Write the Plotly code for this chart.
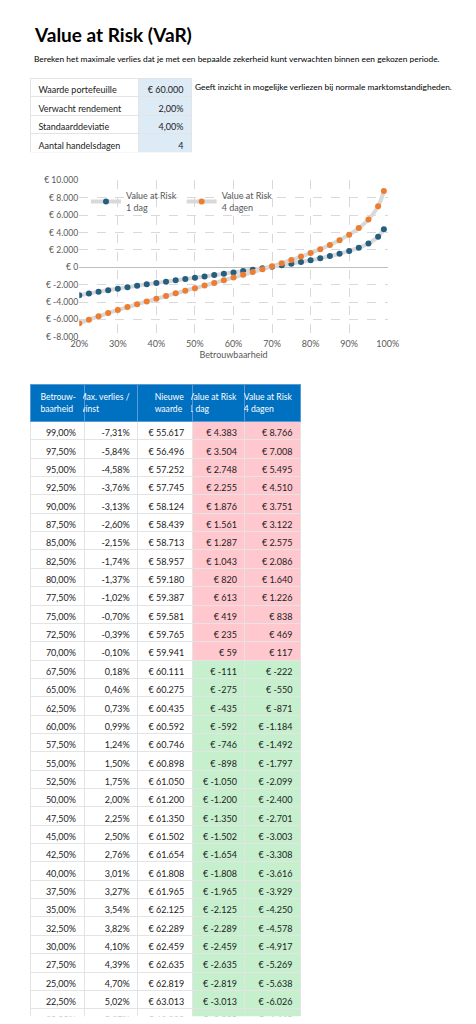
import plotly.graph_objects as go

# Input parameters
input_labels = ["Waarde portefeuille", "Verwacht rendement", "Standaarddeviatie", "Aantal handelsdagen"]
input_values = ["€ 60.000", "2,00%", "4,00%", "4"]

# Table / chart data
confidence = [99.0, 97.5, 95.0, 92.5, 90.0, 87.5, 85.0, 82.5, 80.0, 77.5, 75.0, 72.5, 70.0,
              67.5, 65.0, 62.5, 60.0, 57.5, 55.0, 52.5, 50.0, 47.5, 45.0, 42.5, 40.0, 37.5,
              35.0, 32.5, 30.0, 27.5, 25.0, 22.5, 20.0]
max_change = [-7.31, -5.84, -4.58, -3.76, -3.13, -2.60, -2.15, -1.74, -1.37, -1.02, -0.70, -0.39, -0.10,
              0.18, 0.46, 0.73, 0.99, 1.24, 1.50, 1.75, 2.00, 2.25, 2.50, 2.76, 3.01, 3.27,
              3.54, 3.82, 4.10, 4.39, 4.70, 5.02, 5.37]
new_value = [55617, 56496, 57252, 57745, 58124, 58439, 58713, 58957, 59180, 59387, 59581, 59765, 59941,
             60111, 60275, 60435, 60592, 60746, 60898, 61050, 61200, 61350, 61502, 61654, 61808, 61965,
             62125, 62289, 62459, 62635, 62819, 63013, 63220]
var_1 = [4383, 3504, 2748, 2255, 1876, 1561, 1287, 1043, 820, 613, 419, 235, 59,
         -111, -275, -435, -592, -746, -898, -1050, -1200, -1350, -1502, -1654, -1808, -1965,
         -2125, -2289, -2459, -2635, -2819, -3013, -3220]
var_4 = [8766, 7008, 5495, 4510, 3751, 3122, 2575, 2086, 1640, 1226, 838, 469, 117,
         -222, -550, -871, -1184, -1492, -1797, -2099, -2400, -2701, -3003, -3308, -3616, -3929,
         -4250, -4578, -4917, -5269, -5638, -6026, -6440]

y_ticks = [10000, 8000, 6000, 4000, 2000, 0, -2000, -4000, -6000, -8000]

NB = "\u00a0"


def eur(v):
    return "€" + NB + f"{v:,}".replace(",", ".")


def pct(v):
    return f"{v:.2f}".replace(".", ",") + "%"


def nb(s):
    return s.replace(" ", NB)


FONT = "Lato"
GRID = "#D9D9D9"
fig = go.Figure()

# Inputs table (first row used as header)
fig.add_trace(go.Table(
    domain=dict(x=[14 / 476, 183 / 476], y=[1 - 141 / 1024, 1 - 66 / 1024]),
    columnwidth=[113, 56],
    header=dict(values=[nb(input_labels[0]), nb(input_values[0])], height=18.5,
                fill_color=["white", "#DDEBF7"], line_color="#E4E4E4",
                align=["left", "right"], font=dict(family=FONT, size=9, color="#222")),
    cells=dict(values=[[nb(s) for s in input_labels[1:]], input_values[1:]], height=18.5,
               fill_color=[["white"] * 3, ["#DDEBF7"] * 3], line_color="#E4E4E4",
               align=["left", "right"], font=dict(family=FONT, size=9, color="#222")),
))

# Main table
pos = [v > 0 for v in var_1]
risk_fill = ["#FFC7CE" if p else "#C6EFCE" for p in pos]
white = ["white"] * len(confidence)
headers = ["Betrouw-<br>baarheid", "Max." + NB + "verlies" + NB + "/<br>winst", "Nieuwe<br>waarde",
           "Value" + NB + "at" + NB + "Risk<br>1" + NB + "dag", "Value" + NB + "at" + NB + "Risk<br>4" + NB + "dagen"]
fig.add_trace(go.Table(
    domain=dict(x=[14 / 476, 296 / 476], y=[1 - 1014 / 1024, 1 - 375 / 1024]),
    columnwidth=[56, 56, 57, 55, 58],
    header=dict(values=headers,
                height=29, fill_color="#0070C0", line_color="#5B9BD5", align="right",
                font=dict(family=FONT, size=8.6, color="white")),
    cells=dict(values=[[pct(c) for c in confidence], [pct(m) for m in max_change],
                       [eur(v) for v in new_value], [eur(v) for v in var_1], [eur(v) for v in var_4]],
               height=18.35, fill_color=[white, white, white, risk_fill, risk_fill],
               line_color="#E4E4E4", align="right",
               font=dict(family=FONT, size=9, color="#222")),
))

# Chart
x_vals = [c / 100 for c in confidence]
fig.add_trace(go.Scatter(x=x_vals, y=var_1, mode="lines+markers", name="Value at Risk<br>1 dag",
                         line=dict(color="#D9D9D9", width=4, shape="spline"),
                         marker=dict(color="#255E7E", size=6)))
fig.add_trace(go.Scatter(x=x_vals, y=var_4, mode="lines+markers", name="Value at Risk<br>4 dagen",
                         line=dict(color="#D9D9D9", width=4, shape="spline"),
                         marker=dict(color="#ED7D31", size=6)))

fig.update_layout(
    width=476, height=1024, margin=dict(l=0, r=0, t=0, b=0),
    paper_bgcolor="white", plot_bgcolor="white",
    font=dict(family=FONT, size=9, color="#595959"),
    xaxis=dict(domain=[65 / 476, 387 / 476], range=[0.2, 1.0], tickvals=[0.2, 0.3, 0.4, 0.5, 0.6, 0.7, 0.8, 0.9, 1.0],
               tickformat=".0%", showgrid=True, gridcolor=GRID, griddash="dash", zeroline=False,
               title=dict(text="Betrouwbaarheid", font=dict(size=9, color="#595959"), standoff=2),
               tickfont=dict(size=9, color="#595959"), showline=False),
    yaxis=dict(domain=[1 - 327 / 1024, 1 - 169 / 1024], range=[-8000, 10000],
               tickvals=y_ticks, ticktext=[eur(v) for v in y_ticks],
               showgrid=True, gridcolor=GRID, griddash="dash",
               zeroline=True, zerolinecolor="#BFBFBF", zerolinewidth=1,
               tickfont=dict(size=8.6, color="#595959")),
    legend=dict(orientation="h", x=72 / 476, y=1 - 172 / 1024, xanchor="left", yanchor="top",
                bgcolor="rgba(0,0,0,0)", font=dict(size=9, color="#595959"), itemwidth=30),
    showlegend=True,
    annotations=[
        dict(text="<b>Value at Risk (VaR)</b>", x=16 / 476, y=1 - 22 / 1024, xref="paper", yref="paper",
             xanchor="left", yanchor="middle", showarrow=False, font=dict(size=19, color="black")),
        dict(text="Bereken het maximale verlies dat je met een bepaalde zekerheid kunt verwachten binnen een gekozen periode.",
             x=16 / 476, y=1 - 46 / 1024, xref="paper", yref="paper", xanchor="left", yanchor="middle",
             showarrow=False, font=dict(size=8.4, color="black")),
        dict(text="Geeft inzicht in mogelijke verliezen bij normale marktomstandigheden.",
             x=184 / 476, y=1 - 75 / 1024, xref="paper", yref="paper", xanchor="left", yanchor="middle",
             showarrow=False, font=dict(size=8.4, color="black")),
    ],
)

fig.write_html("out.html")
